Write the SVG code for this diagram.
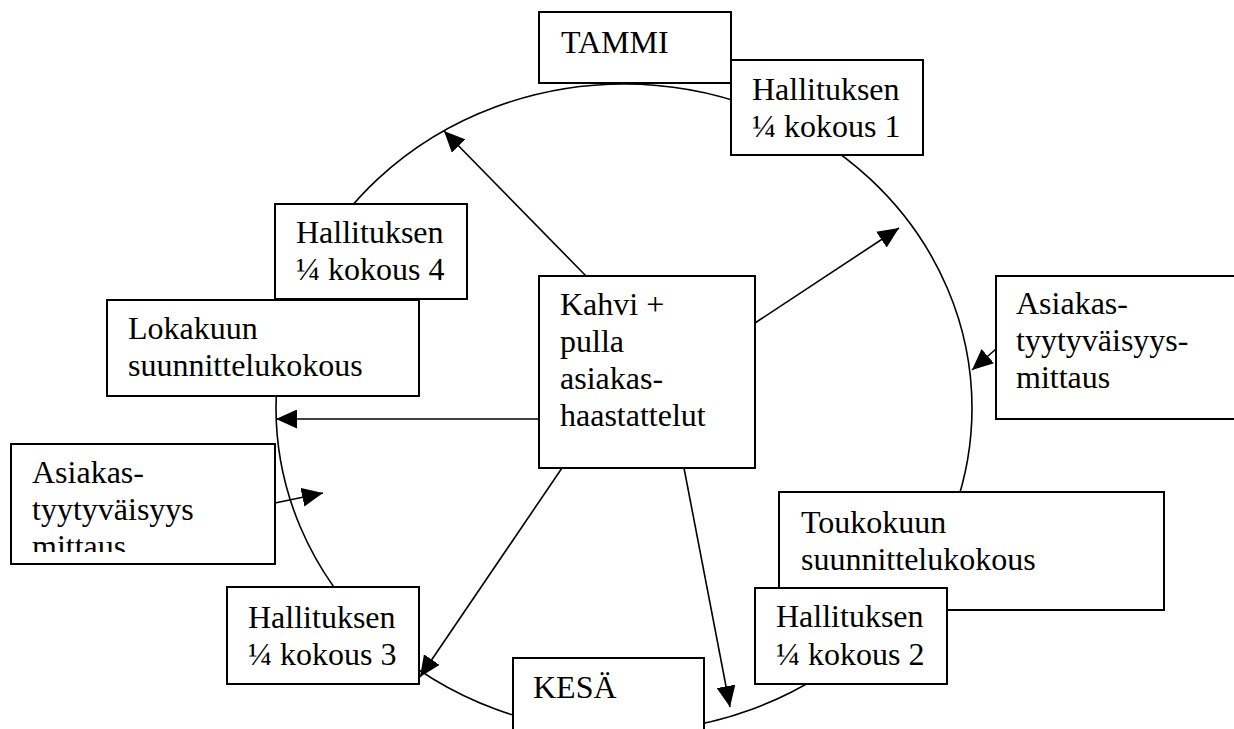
<svg xmlns="http://www.w3.org/2000/svg" width="1234" height="729" viewBox="0 0 1234 729">
<style>
.box{fill:#fff;stroke:#000;stroke-width:2}
.t{font-family:"Liberation Serif","Times New Roman",serif;font-size:32px;fill:#000}
.ring{fill:none;stroke:#000;stroke-width:1.6}
.c{fill:none;stroke:#000;stroke-width:1.6;marker-end:url(#ah)}
</style>
<defs>
<marker id="ah" markerUnits="userSpaceOnUse" markerWidth="21" markerHeight="19" refX="21" refY="9.5" orient="auto">
<path d="M0,0 L21,9.5 L0,19 z" fill="#000"/>
</marker>
<clipPath id="clipL"><rect x="11" y="444" width="264" height="108"/></clipPath>
</defs>
<rect width="1234" height="729" fill="#fff"/>
<ellipse class="ring" cx="624" cy="408" rx="348" ry="324"/>

<g id="tammi"><rect class="box" x="539" y="12" width="192" height="71"/><text class="t" x="561" y="53">TAMMI</text></g>
<g id="hall1"><rect class="box" x="731" y="60" width="192" height="95"/><text class="t" x="752" y="100">Hallituksen</text><text class="t" x="752" y="137">¼ kokous 1</text></g>
<g id="hall4"><rect class="box" x="275" y="204" width="192" height="95"/><text class="t" x="296" y="243">Hallituksen</text><text class="t" x="296" y="280">¼ kokous 4</text></g>
<g id="lokakuu"><rect class="box" x="107" y="300" width="312" height="96"/><text class="t" x="128" y="339">Lokakuun</text><text class="t" x="128" y="376">suunnittelukokous</text></g>
<g id="kahvi"><rect class="box" x="539" y="276" width="216" height="192"/><text class="t" x="560" y="315">Kahvi +</text><text class="t" x="560" y="352">pulla</text><text class="t" x="560" y="389">asiakas-</text><text class="t" x="560" y="426">haastattelut</text></g>
<g id="asiakasR"><rect class="box" x="996" y="276" width="250" height="143"/><text class="t" x="1016" y="314">Asiakas-</text><text class="t" x="1016" y="351">tyytyväisyys-</text><text class="t" x="1016" y="388">mittaus</text></g>
<g id="asiakasL"><rect class="box" x="11" y="444" width="264" height="120"/><g clip-path="url(#clipL)"><text class="t" x="32" y="483">Asiakas-</text><text class="t" x="32" y="520">tyytyväisyys</text><text class="t" x="32" y="557">mittaus</text></g></g>
<g id="toukokuu"><rect class="box" x="779" y="492" width="385" height="118"/><text class="t" x="801" y="533">Toukokuun</text><text class="t" x="801" y="570">suunnittelukokous</text></g>
<g id="hall2"><rect class="box" x="755" y="588" width="192" height="96"/><text class="t" x="776" y="627">Hallituksen</text><text class="t" x="776" y="665">¼ kokous 2</text></g>
<g id="hall3"><rect class="box" x="227" y="587" width="192" height="97"/><text class="t" x="248" y="628">Hallituksen</text><text class="t" x="248" y="665">¼ kokous 3</text></g>
<g id="kesa"><rect class="box" x="513" y="658" width="191" height="90"/><text class="t" x="533" y="698">KESÄ</text></g>

<g id="connectors">
<line class="c" x1="586" y1="276" x2="444" y2="131"/>
<line class="c" x1="755" y1="323" x2="899" y2="228"/>
<line class="c" x1="996" y1="349" x2="972" y2="370"/>
<line class="c" x1="539" y1="419" x2="276" y2="419"/>
<line class="c" x1="275" y1="503" x2="323" y2="493"/>
<line class="c" x1="562" y1="468" x2="420" y2="677"/>
<line class="c" x1="684" y1="468" x2="730" y2="707"/>
</g>
</svg>
